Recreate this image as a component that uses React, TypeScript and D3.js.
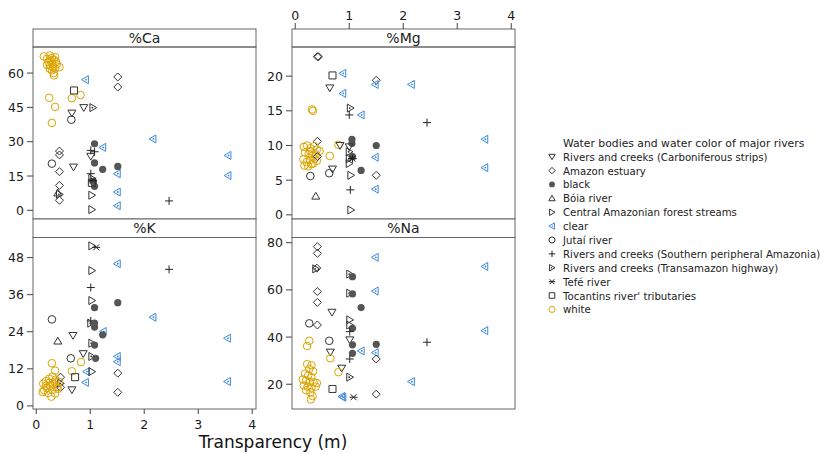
import React from "react";
import * as d3 from "d3";

// Legend groups (order as in legend)
const groupNames = [
  "Rivers and creeks (Carboniferous strips)",
  "Amazon estuary",
  "black",
  "Bóia river",
  "Central Amazonian forest streams",
  "clear",
  "Jutaí river",
  "Rivers and creeks (Southern peripheral Amazonia)",
  "Rivers and creeks (Transamazon highway)",
  "Tefé river",
  "Tocantins river' tributaries",
  "white",
];
const groupShapes = ["tdown", "diamond", "dot", "tup", "tright", "tleftdot", "circle", "plus", "trightdot", "star", "square", "circle"];
const groupColors = ["#333", "#333", "#555", "#333", "#333", "#3a86dc", "#333", "#222", "#333", "#222", "#333", "#dba400"];

const xTicks = [0, 1, 2, 3, 4];

// [group, transparency (m), value]
const caPoints: [number, number, number][] = [
  [11,0.14,67.3],[11,0.20,66.3],[11,0.25,67.7],[11,0.29,66.6],[11,0.33,65.8],[11,0.37,64.8],[11,0.23,64.8],[11,0.26,63.4],[11,0.31,62.6],[11,0.35,61.9],[11,0.29,61.2],[11,0.32,60.0],[11,0.33,59.0],[11,0.38,63.8],[11,0.43,62.6],[11,0.20,63.6],[11,0.27,65.4],[11,0.35,67.0],[11,0.25,61.9],[11,0.30,63.8],
  [11,0.24,49.2],[11,0.35,45.2],[11,0.29,38.2],[11,0.66,49.0],[11,0.82,50.4],
  [5,0.91,57.1],[5,1.23,27.5],[5,2.16,31.2],[5,3.55,24.0],[5,3.55,15.2],[5,1.50,16.0],[5,1.50,8.0],[5,1.50,2.0],
  [1,1.51,58.3],[1,1.51,53.9],[1,0.43,25.9],[1,0.43,24.2],[1,0.43,16.9],[1,0.43,10.9],[1,0.43,4.4],
  [10,0.70,52.4],
  [0,0.66,42.5],[0,0.69,18.9],[0,0.88,44.9],[0,1.01,23.6],
  [6,0.65,39.6],[6,0.29,20.4],
  [8,1.05,44.9],
  [2,1.08,29.1],[2,1.08,20.7],[2,1.23,17.9],[2,1.51,19.2],[2,1.08,10.5],[2,1.06,12.5],
  [7,1.01,26.2],[7,1.01,16.0],[7,2.46,4.1],[7,1.08,25.6],
  [8,1.03,14.0],[10,1.03,12.0],[9,1.05,13.0],
  [4,1.03,6.6],[4,1.03,0.3],
  [3,0.40,7.6],[8,0.43,7.0],
];

const mgPoints: [number, number, number][] = [
  [1,0.41,22.8],[1,0.43,22.8],[10,0.69,20.1],[5,0.88,20.4],[0,0.64,18.3],[5,0.88,17.5],[1,1.50,19.4],[5,1.48,18.8],[5,2.15,18.8],
  [11,0.31,15.2],[11,0.33,15.0],[8,1.02,15.4],[7,1.0,14.4],[5,1.22,14.4],[7,2.44,13.3],[5,3.51,10.9],[5,3.51,6.8],[1,0.41,10.6],
  [11,0.16,9.8],[11,0.22,10.0],[11,0.28,9.6],[11,0.35,9.9],[11,0.40,9.4],[11,0.18,9.0],[11,0.25,8.8],[11,0.32,8.5],[11,0.38,8.7],[11,0.45,9.2],[11,0.15,8.0],[11,0.21,7.6],[11,0.27,7.9],[11,0.33,7.4],[11,0.40,7.8],[11,0.17,7.1],[11,0.24,7.0],[11,0.30,7.3],[11,0.36,8.1],[11,0.28,9.2],
  [11,0.80,10.1],[11,0.64,8.5],
  [0,0.83,10.0],
  [2,1.05,10.9],[2,1.05,10.3],[2,1.50,10.0],[2,1.22,6.4],[2,1.06,8.4],
  [1,0.41,8.4],[1,1.50,5.7],[5,1.48,8.3],[5,1.48,3.7],
  [6,0.28,5.6],[6,0.63,6.0],[0,0.69,6.6],
  [4,1.03,5.7],[4,1.03,0.7],[7,1.02,3.6],[3,0.38,2.7],
  [0,1.0,9.8],[8,1.0,9.1],[8,1.0,8.1],[4,1.0,7.4],[9,1.06,8.1],[7,1.06,8.1],
];

const kPoints: [number, number, number][] = [
  [4,1.03,51.8],[9,1.11,51.3],[5,1.50,46.0],[7,2.46,44.2],[4,1.03,43.8],[7,1.01,38.3],[4,1.03,34.1],[2,1.08,31.8],[2,1.51,33.4],[5,2.16,28.7],[6,0.29,28.0],[7,1.01,27.5],[8,1.01,26.8],[2,1.08,26.8],[2,1.08,25.5],[5,1.24,24.1],[2,1.23,23.0],[0,0.68,22.8],[3,0.40,21.0],[8,1.03,20.3],[2,1.08,19.7],[0,0.87,16.9],[6,0.64,15.4],[11,0.83,14.2],[11,0.29,13.8],[5,1.5,16.0],[5,1.5,14.3],[8,1.03,16.0],[2,1.10,15.4],[5,0.93,11.1],[4,1.03,11.1],[11,0.35,11.4],[11,0.66,11.2],[1,1.51,10.6],[1,1.51,4.4],[5,0.91,7.6],[5,3.54,7.9],[5,3.54,21.9],[10,0.72,9.3],[0,0.66,5.2],[1,0.45,9.3],[8,0.45,7.3],[1,0.45,6.0],
  [11,0.13,7.2],[11,0.18,8.0],[11,0.24,8.8],[11,0.30,9.5],[11,0.36,8.5],[11,0.42,7.8],[11,0.15,5.0],[11,0.20,5.8],[11,0.26,6.5],[11,0.32,7.0],[11,0.38,6.0],[11,0.12,4.5],[11,0.22,4.2],[11,0.28,3.0],[11,0.35,4.0],[11,0.40,5.5],[11,0.25,7.5],[11,0.30,5.2],[11,0.18,6.5],[11,0.34,7.8],
];

const naPoints: [number, number, number][] = [
  [1,0.41,78.3],[1,0.41,75.5],[5,1.48,73.8],[5,3.51,69.9],[8,0.38,68.9],[1,0.40,69.2],[8,1.01,66.7],[2,1.06,65.6],[1,0.41,59.3],[8,1.01,58.6],[2,1.06,58.3],[5,1.48,59.5],[1,0.41,54.7],[2,1.22,52.5],[0,0.68,50.5],[4,1.01,47.3],[4,1.01,45.1],[6,0.26,45.8],[1,0.41,45.1],[5,3.51,42.7],[2,1.06,43.7],[7,1.01,42.3],[11,0.26,38.4],[11,0.22,36.2],[6,0.63,38.4],[7,2.44,37.8],[0,1.01,38.8],[2,1.06,36.7],[2,1.50,36.9],[0,0.65,33.6],[11,0.65,31.0],[5,1.22,34.1],[5,1.48,33.4],[2,1.06,33.1],[7,1.01,30.7],[1,1.50,30.7],[0,0.86,26.8],[11,0.80,25.1],[8,1.01,23.0],[5,2.15,21.1],[10,0.69,18.0],[5,0.88,14.5],[5,0.86,14.8],[9,1.08,14.5],[1,1.50,15.8],
  [11,0.22,28.5],[11,0.30,28.0],[11,0.26,26.5],[11,0.33,25.5],[11,0.18,24.5],[11,0.24,23.8],[11,0.30,23.0],[11,0.14,22.0],[11,0.20,21.5],[11,0.27,21.0],[11,0.34,20.8],[11,0.40,20.5],[11,0.16,19.5],[11,0.23,19.0],[11,0.30,18.5],[11,0.38,19.0],[11,0.28,16.5],[11,0.32,15.0],[11,0.29,13.6],[11,0.20,17.5],
];

const caTicks = [0, 15, 30, 45, 60];
const mgTicks = [0, 5, 10, 15, 20];
const kTicks = [0, 12, 24, 36, 48];
const naTicks = [20, 40, 60, 80];

const FONT = "'DejaVu Sans', Verdana, sans-serif";

function shapePath(shape: string): string {
  switch (shape) {
    case "tdown": return "M-4,-3L4,-3L0,3.8Z";
    case "tup": return "M-4,3L4,3L0,-3.8Z";
    case "tright":
    case "trightdot": return "M-3,-4L-3,4L3.8,0Z";
    case "tleftdot": return "M3,-4L3,4L-3.8,0Z";
    case "diamond": return "M0,-4L4,0L0,4L-4,0Z";
    case "square": return "M-3.5,-3.5h7v7h-7Z";
    case "plus": return "M-4,0H4M0,-4V4";
    case "star": return "M-3,-3L3,3M-3,3L3,-3M-4,0H4";
    default: return "";
  }
}

function Marker({ g, x, y, s = 1 }: { g: number; x: number; y: number; s?: number }) {
  const shape = groupShapes[g];
  const c = groupColors[g];
  return (
    <g transform={`translate(${x},${y}) scale(${s})`}>
      {shape === "circle" && <circle r={3.8} fill="none" stroke={c} strokeWidth={1 / s} />}
      {shape === "dot" && <circle r={3.6} fill={c} stroke="none" />}
      {shape !== "circle" && shape !== "dot" && (
        <path d={shapePath(shape)} fill="none" stroke={c} strokeWidth={1 / s} />
      )}
      {shape === "tleftdot" && <circle cx={0.6} cy={0} r={0.9} fill={c} />}
      {shape === "trightdot" && <circle cx={-0.6} cy={0} r={0.9} fill={c} />}
    </g>
  );
}

type PanelDef = {
  title: string;
  points: [number, number, number][];
  yDomain: [number, number];
  ticks: number[];
  x0: number; x1: number; top: number; stripBottom: number; bottom: number;
  yAxisX: number;
  xAxis: "top" | "bottom" | null;
};

const PANEL_STROKE = "#666";

function Panel({ p }: { p: PanelDef }) {
  const xs = d3.scaleLinear().domain([-0.06, 4.07]).range([p.x0, p.x1]);
  const ys = d3.scaleLinear().domain(p.yDomain).range([p.bottom, p.stripBottom]);
  return (
    <g>
      <rect x={p.x0} y={p.top} width={p.x1 - p.x0} height={p.stripBottom - p.top} fill="#fff" stroke={PANEL_STROKE} />
      <text x={(p.x0 + p.x1) / 2} y={(p.top + p.stripBottom) / 2 + 5} textAnchor="middle" fontFamily={FONT} fontSize={14} fill="#222">{p.title}</text>
      <rect x={p.x0} y={p.stripBottom} width={p.x1 - p.x0} height={p.bottom - p.stripBottom} fill="none" stroke={PANEL_STROKE} />
      {p.ticks.map((t) => (
        <g key={t}>
          <line x1={p.yAxisX - 6} x2={p.yAxisX} y1={ys(t)} y2={ys(t)} stroke="#444" />
          <text x={p.yAxisX - 9} y={ys(t) + 4.5} textAnchor="end" fontFamily={FONT} fontSize={12.5} fill="#1a1a1a">{t}</text>
        </g>
      ))}
      {p.xAxis === "bottom" && xTicks.map((t) => (
        <g key={"x" + t}>
          <line x1={xs(t)} x2={xs(t)} y1={p.bottom} y2={p.bottom + 5} stroke="#444" />
          <text x={xs(t)} y={p.bottom + 19.5} textAnchor="middle" fontFamily={FONT} fontSize={12.5} fill="#1a1a1a">{t}</text>
        </g>
      ))}
      {p.xAxis === "top" && xTicks.map((t) => (
        <g key={"x" + t}>
          <line x1={xs(t)} x2={xs(t)} y1={p.top} y2={p.top - 6} stroke="#444" />
          <text x={xs(t)} y={p.top - 9.5} textAnchor="middle" fontFamily={FONT} fontSize={12.5} fill="#1a1a1a">{t}</text>
        </g>
      ))}
      {p.points.map(([g, x, y], i) => (
        <Marker key={i} g={g} x={xs(x)} y={ys(y)} />
      ))}
    </g>
  );
}

export default function App() {
  const L0 = 33, L1 = 256, R0 = 292, R1 = 515;
  const panels: PanelDef[] = [
    { title: "%Ca", points: caPoints, yDomain: [-3.8, 71.4], ticks: caTicks, x0: L0, x1: L1, top: 29, stripBottom: 47, bottom: 219, yAxisX: L0, xAxis: null },
    { title: "%Mg", points: mgPoints, yDomain: [-0.6, 24.2], ticks: mgTicks, x0: R0, x1: R1, top: 29, stripBottom: 47, bottom: 219, yAxisX: R0, xAxis: "top" },
    { title: "%K", points: kPoints, yDomain: [-1, 54.5], ticks: kTicks, x0: L0, x1: L1, top: 219, stripBottom: 237.5, bottom: 409, yAxisX: L0, xAxis: "bottom" },
    { title: "%Na", points: naPoints, yDomain: [9.5, 82.2], ticks: naTicks, x0: R0, x1: R1, top: 219, stripBottom: 237.5, bottom: 409, yAxisX: R0, xAxis: null },
  ];
  const legendX = 552, legendTextX = 563, legendY0 = 156.7, legendStep = 13.88;
  return (
    <svg width={825} height={454} style={{ position: "absolute", left: 0, top: 0, background: "#fff" }}>
      <rect width={825} height={454} fill="#fff" />
      {panels.map((p) => <Panel key={p.title} p={p} />)}
      <text x={273} y={448} textAnchor="middle" fontFamily={FONT} fontSize={17} fill="#111">Transparency (m)</text>
      <text x={legendTextX} y={147} fontFamily={FONT} fontSize={10.8} fill="#222">Water bodies and water color of major rivers</text>
      {groupNames.map((n, i) => (
        <g key={n}>
          <Marker g={i} x={legendX} y={legendY0 + i * legendStep} s={0.8} />
          <text x={legendTextX} y={legendY0 + i * legendStep + 4} fontFamily={FONT} fontSize={10.2} fill="#222">{n}</text>
        </g>
      ))}
    </svg>
  );
}
